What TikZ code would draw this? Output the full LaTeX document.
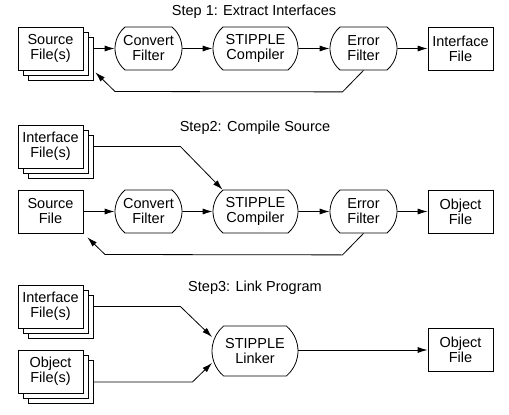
\documentclass[tikz,border=0pt]{standalone}
\usepackage{fontspec}
\setmainfont{Liberation Sans}
\usetikzlibrary{shapes.misc,shadows,arrows.meta}

\begin{document}
\begin{tikzpicture}[x=1pt, y=-1pt, line width=.8pt, >={Latex[length=10pt,width=6pt]},
  every node/.style={font=\fontsize{14.5pt}{15pt}\selectfont, align=center, inner sep=0pt},
  file/.style={draw, fill=white, minimum width=65pt, minimum height=43pt},
  files/.style={file,
    general shadow={shadow xshift=10pt, shadow yshift=-10pt, fill=white, draw=black},
    general shadow={shadow xshift=5pt, shadow yshift=-5pt, fill=white, draw=black}},
  tool/.style={draw, rounded rectangle, rounded rectangle arc length=100,
    minimum width=67pt, minimum height=43pt}]
\useasboundingbox (0,0) rectangle (509,415);

% Step 1
\node (step1) at (254,12) {Step 1: Extract Interfaces};
\node[files] (src1) at (50.5,48.5) {Source\\File(s)};
\node[tool] (conv1) at (148.5,48.5) {Convert\\Filter};
\node[tool, minimum width=85pt] (comp1) at (255.5,48.5) {STIPPLE\\Compiler};
\node[tool] (err1) at (363.5,48.5) {Error\\Filter};
\node[file] (iface1) at (460.5,48.5) {Interface\\File};
\coordinate (back1) at (115,91.5);

\draw[->] ([xshift=10pt]src1.east) -- (conv1);
\draw[->] (conv1) -- (comp1);
\draw[->] (comp1) -- (err1);
\draw[->] (err1) -- (iface1);
\draw[->] (err1.south) -- ++(-21,21.5) -- (back1) -- ([shift={(12,2)}]src1.south east);

% Step 2
\node (step2) at (255,128) {Step2: Compile Source};
\node[files] (iface2) at (50.5,146.5) {Interface\\File(s)};
\node[file] (src2) at (50.5,211.5) {Source\\File};
\node[tool] (conv2) at (148.5,211.5) {Convert\\Filter};
\node[tool, minimum width=85pt] (comp2) at (255.5,211.5) {STIPPLE\\Compiler};
\node[tool] (err2) at (363.5,211.5) {Error\\Filter};
\node[file] (obj2) at (460.5,211.5) {Object\\File};
\coordinate (back2) at (105,254.5);

\draw[->] ([xshift=10pt]iface2.east) -- ++(87,0) -- ([shift={(-33,0)}]comp2.north);
\draw[->] (src2) -- (conv2);
\draw[->] (conv2) -- (comp2);
\draw[->] (comp2) -- (err2);
\draw[->] (err2) -- (obj2);
\draw[->] (err2.south) -- ++(-21,21.5) -- (back2) -- ([shift={(4,4)}]src2.south east);

% Step 3
\node (step3) at (255,288) {Step3: Link Program};
\node[files] (iface3) at (50.5,306.5) {Interface\\File(s)};
\node[files] (obj3) at (50.5,371.5) {Object\\File(s)};
\node[tool, minimum width=86pt, minimum height=50pt] (link3) at (255,351) {STIPPLE\\Linker};
\node[file] (objout) at (460.5,350) {Object\\File};

\draw[->] ([xshift=10pt]iface3.east) -- ++(87,0) -- ([shift={(-43,-14)}]link3.center);
\draw[->] ([shift={(10,10.5)}]obj3.east) -- ++(99,0) -- ([shift={(-43,12)}]link3.center);
\draw[->] (link3.east |- objout) -- (objout);

\end{tikzpicture}
\end{document}
